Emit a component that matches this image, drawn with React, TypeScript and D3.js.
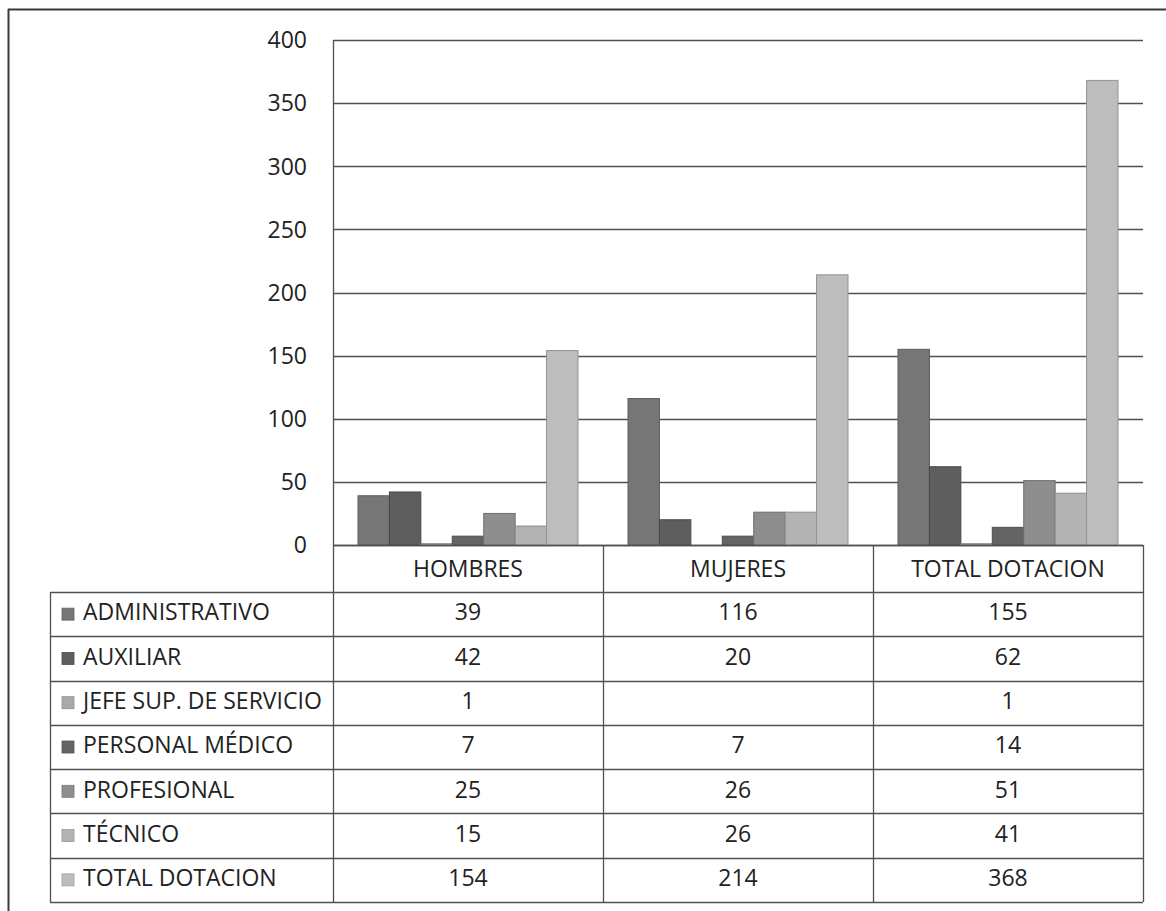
import React from "react";
import * as d3 from "d3";

const categories = ["HOMBRES", "MUJERES", "TOTAL DOTACION"];
const seriesNames = [
  "ADMINISTRATIVO",
  "AUXILIAR",
  "JEFE SUP. DE SERVICIO",
  "PERSONAL MÉDICO",
  "PROFESIONAL",
  "TÉCNICO",
  "TOTAL DOTACION",
];
const administrativo = [39, 116, 155];
const auxiliar = [42, 20, 62];
const jefe: (number | null)[] = [1, null, 1];
const personalMedico = [7, 7, 14];
const profesional = [25, 26, 51];
const tecnico = [15, 26, 41];
const totalDotacion = [154, 214, 368];
const seriesValues: (number | null)[][] = [
  administrativo,
  auxiliar,
  jefe,
  personalMedico,
  profesional,
  tecnico,
  totalDotacion,
];
const yTicks = [0, 50, 100, 150, 200, 250, 300, 350, 400];

const colors = ["#767676", "#5e5e5e", "#a9a9a9", "#646464", "#8e8e8e", "#b3b3b3", "#bdbdbd"];

const W = 1166;
const H = 911;
const plotLeft = 333;
const plotRight = 1143;
const yTop = 40;
const yZero = 545;
const legendLeft = 50;
const headerBottom = 592;
const tableBottom = 902;
const font = "'Open Sans', 'Noto Sans', sans-serif";
const fs = 23;
const textColor = "#222";
const lineColor = "#505050";

export default function App() {
  const x0 = d3.scaleBand<string>().domain(categories).range([plotLeft, plotRight]).padding(0);
  const x1 = d3
    .scaleBand<string>()
    .domain(seriesNames)
    .range([25, x0.bandwidth() - 25])
    .padding(0);
  const y = d3.scaleLinear().domain([0, 400]).range([yZero, yTop]);
  const rowH = (tableBottom - headerBottom) / seriesNames.length;
  const rowY = (i: number) => headerBottom + i * rowH;

  return (
    <svg
      width={W}
      height={H}
      style={{ position: "absolute", left: 0, top: 0, background: "#fff" }}
    >
      <rect x={0} y={0} width={W} height={H} fill="#fff" />
      {/* outer frame */}
      <line x1={8} x2={W} y1={9.5} y2={9.5} stroke="#3a3a3a" strokeWidth={2} />
      <line x1={8.5} x2={8.5} y1={9} y2={H} stroke="#3a3a3a" strokeWidth={2} />

      {/* gridlines */}
      {yTicks.map((t) => (
        <line
          key={"g" + t}
          x1={plotLeft}
          x2={plotRight}
          y1={Math.round(y(t)) + 0.5}
          y2={Math.round(y(t)) + 0.5}
          stroke={lineColor}
          strokeWidth={1.3}
        />
      ))}
      {/* tick labels */}
      {yTicks.map((t) => (
        <text
          key={"t" + t}
          x={307}
          y={y(t)}
          dy="0.36em"
          textAnchor="end"
          fontFamily={font}
          fontSize={fs}
          fill={textColor}
        >
          {t}
        </text>
      ))}

      {/* bars */}
      {categories.map((c, ci) => (
        <g key={c} transform={`translate(${x0(c)},0)`}>
          {seriesNames.map((s, si) => {
            const v = seriesValues[si][ci];
            if (v === null || v === undefined) return null;
            const fill = colors[si];
            return (
              <rect
                key={s}
                x={x1(s)}
                y={y(v)}
                width={x1.bandwidth()}
                height={yZero - y(v)}
                fill={fill}
                stroke={d3.color(fill)!.darker(0.7).formatHex()}
                strokeWidth={1}
              />
            );
          })}
        </g>
      ))}

      {/* axis line */}
      <line x1={plotLeft + 0.5} x2={plotLeft + 0.5} y1={yTop} y2={tableBottom} stroke={lineColor} strokeWidth={1.3} />

      {/* table */}
      <line x1={plotLeft} x2={plotRight} y1={yZero + 0.5} y2={yZero + 0.5} stroke={lineColor} strokeWidth={1.3} />
      {d3.range(seriesNames.length + 1).map((i) => (
        <line
          key={"r" + i}
          x1={legendLeft}
          x2={plotRight}
          y1={Math.round(rowY(i)) + 0.5}
          y2={Math.round(rowY(i)) + 0.5}
          stroke={lineColor}
          strokeWidth={1.3}
        />
      ))}
      <line x1={legendLeft + 0.5} x2={legendLeft + 0.5} y1={headerBottom} y2={tableBottom} stroke={lineColor} strokeWidth={1.3} />
      {categories.map((c) => (
        <line
          key={"v" + c}
          x1={(x0(c) as number) + x0.bandwidth() + 0.5}
          x2={(x0(c) as number) + x0.bandwidth() + 0.5}
          y1={yZero}
          y2={tableBottom}
          stroke={lineColor}
          strokeWidth={1.3}
        />
      ))}
      {categories.map((c) => (
        <text
          key={"h" + c}
          x={(x0(c) as number) + x0.bandwidth() / 2}
          y={(yZero + headerBottom) / 2}
          dy="0.36em"
          textAnchor="middle"
          fontFamily={font}
          fontSize={fs}
          fill={textColor}
        >
          {c}
        </text>
      ))}
      {seriesNames.map((s, si) => (
        <g key={"row" + s}>
          <rect
            x={62}
            y={rowY(si) + rowH / 2 - 6}
            width={12}
            height={12}
            fill={colors[si]}
            stroke={d3.color(colors[si])!.darker(0.5).formatHex()}
            strokeWidth={0.8}
          />
          <text
            x={83}
            y={rowY(si) + rowH / 2 - 2}
            dy="0.36em"
            fontFamily={font}
            fontSize={fs}
            fill={textColor}
          >
            {s}
          </text>
          {categories.map((c, ci) => {
            const v = seriesValues[si][ci];
            return (
              <text
                key={c}
                x={(x0(c) as number) + x0.bandwidth() / 2}
                y={rowY(si) + rowH / 2 - 2}
                dy="0.36em"
                textAnchor="middle"
                fontFamily={font}
                fontSize={fs}
                fill={textColor}
              >
                {v === null ? "" : v}
              </text>
            );
          })}
        </g>
      ))}
    </svg>
  );
}
